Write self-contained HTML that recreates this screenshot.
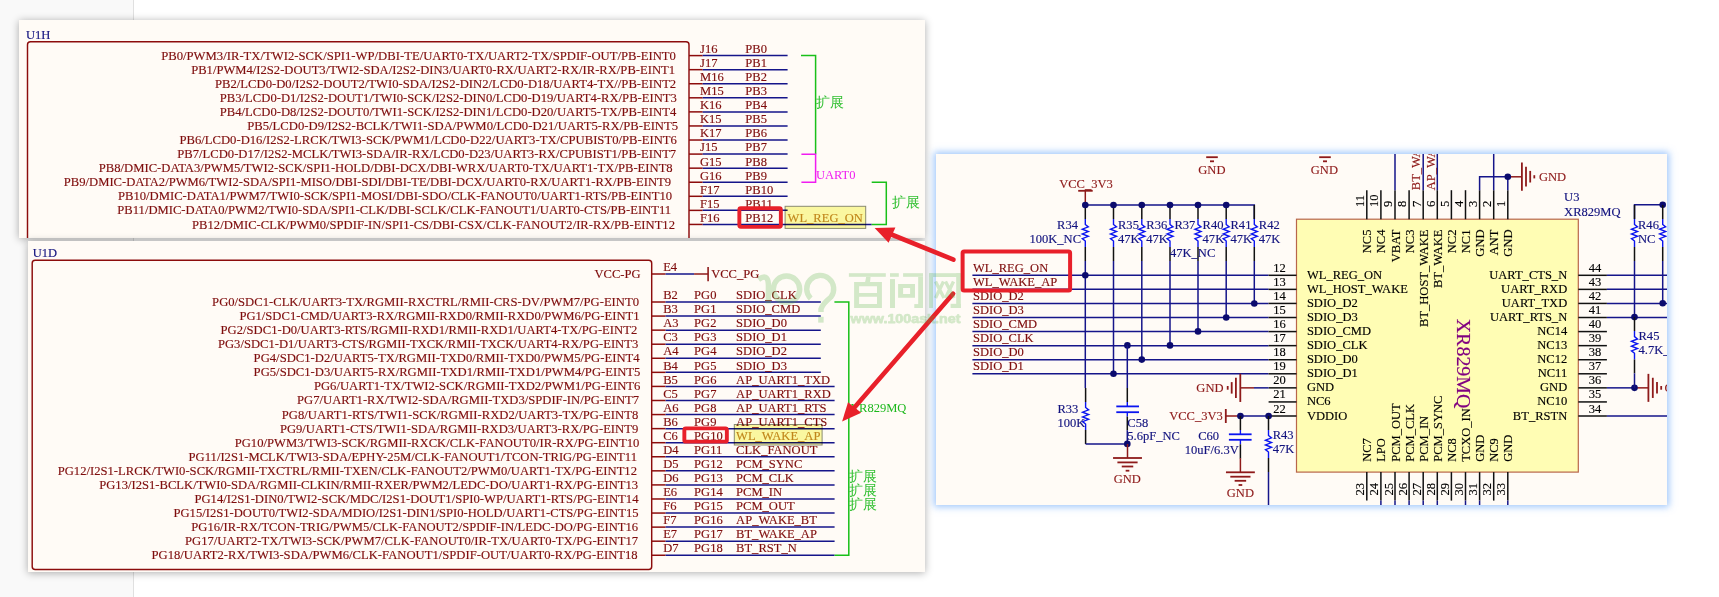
<!DOCTYPE html><html><head><meta charset="utf-8"><style>
html,body{margin:0;padding:0;width:1719px;height:597px;overflow:hidden;background:#fff;}
body{position:relative;font-family:"Liberation Serif",serif;}
.strip{position:absolute;left:0;top:0;width:133px;height:597px;background:#f9f9f9;border-right:1px solid #e0e0e0;}
.p{position:absolute;background:#fffbf6;}
svg{position:absolute;left:0;top:0;will-change:transform;}
text{font-family:"Liberation Serif",serif;}
</style></head><body>
<div class="strip"></div>
<div class="p" style="left:19px;top:20px;width:906px;height:218px;box-shadow:0 1px 8px rgba(0,0,0,0.32);"></div>
<div class="p" style="left:28px;top:241px;width:897px;height:331px;box-shadow:0 1px 8px rgba(0,0,0,0.32);"></div>
<div class="p" style="left:936px;top:154px;width:731px;height:351px;box-shadow:0 0 7px 2px rgba(120,175,250,0.7);"></div>
<svg width="1719" height="597" viewBox="0 0 1719 597">
<defs><clipPath id="c1"><rect x="19" y="20" width="906" height="218"/></clipPath><clipPath id="c2"><rect x="28" y="241" width="897" height="331"/></clipPath><clipPath id="c3"><rect x="936" y="154" width="731" height="351"/></clipPath></defs>
<g clip-path="url(#c1)">
<text transform="translate(26.00,39.20) scale(0.965,1)" fill="#12127e" stroke="#12127e" stroke-width="0.15" font-size="13" text-anchor="start">U1H</text>
<path d="M27.5,250 V44.7 Q27.5,41.7 30.5,41.7 H686 Q689,41.7 689,44.7 V250" fill="none" stroke="#8c0c0c" stroke-width="1.45"/>
<text transform="translate(161.20,59.70)" fill="#7e0c0c" stroke="#7e0c0c" stroke-width="0.15" font-size="13" text-anchor="start" textLength="514.70" lengthAdjust="spacingAndGlyphs">PB0/PWM3/IR-TX/TWI2-SCK/SPI1-WP/DBI-TE/UART0-TX/UART2-TX/SPDIF-OUT/PB-EINT0</text>
<line x1="689.00" y1="55.60" x2="702.70" y2="55.60" stroke="#8c0c0c" stroke-width="1.5"/>
<line x1="702.70" y1="55.60" x2="787.60" y2="55.60" stroke="#15158a" stroke-width="1.5"/>
<text transform="translate(700.00,53.00) scale(0.965,1)" fill="#7e0c0c" stroke="#7e0c0c" stroke-width="0.15" font-size="13" text-anchor="start">J16</text>
<text transform="translate(745.30,53.00) scale(0.965,1)" fill="#7e0c0c" stroke="#7e0c0c" stroke-width="0.15" font-size="13" text-anchor="start">PB0</text>
<text transform="translate(191.20,73.77)" fill="#7e0c0c" stroke="#7e0c0c" stroke-width="0.15" font-size="13" text-anchor="start" textLength="483.80" lengthAdjust="spacingAndGlyphs">PB1/PWM4/I2S2-DOUT3/TWI2-SDA/I2S2-DIN3/UART0-RX/UART2-RX/IR-RX/PB-EINT1</text>
<line x1="689.00" y1="69.67" x2="702.70" y2="69.67" stroke="#8c0c0c" stroke-width="1.5"/>
<line x1="702.70" y1="69.67" x2="787.60" y2="69.67" stroke="#15158a" stroke-width="1.5"/>
<text transform="translate(700.00,67.07) scale(0.965,1)" fill="#7e0c0c" stroke="#7e0c0c" stroke-width="0.15" font-size="13" text-anchor="start">J17</text>
<text transform="translate(745.30,67.07) scale(0.965,1)" fill="#7e0c0c" stroke="#7e0c0c" stroke-width="0.15" font-size="13" text-anchor="start">PB1</text>
<text transform="translate(215.00,87.84)" fill="#7e0c0c" stroke="#7e0c0c" stroke-width="0.15" font-size="13" text-anchor="start" textLength="461.20" lengthAdjust="spacingAndGlyphs">PB2/LCD0-D0/I2S2-DOUT2/TWI0-SDA/I2S2-DIN2/LCD0-D18/UART4-TX//PB-EINT2</text>
<line x1="689.00" y1="83.74" x2="702.70" y2="83.74" stroke="#8c0c0c" stroke-width="1.5"/>
<line x1="702.70" y1="83.74" x2="787.60" y2="83.74" stroke="#15158a" stroke-width="1.5"/>
<text transform="translate(700.00,81.14) scale(0.965,1)" fill="#7e0c0c" stroke="#7e0c0c" stroke-width="0.15" font-size="13" text-anchor="start">M16</text>
<text transform="translate(745.30,81.14) scale(0.965,1)" fill="#7e0c0c" stroke="#7e0c0c" stroke-width="0.15" font-size="13" text-anchor="start">PB2</text>
<text transform="translate(219.80,101.91)" fill="#7e0c0c" stroke="#7e0c0c" stroke-width="0.15" font-size="13" text-anchor="start" textLength="457.10" lengthAdjust="spacingAndGlyphs">PB3/LCD0-D1/I2S2-DOUT1/TWI0-SCK/I2S2-DIN0/LCD0-D19/UART4-RX/PB-EINT3</text>
<line x1="689.00" y1="97.81" x2="702.70" y2="97.81" stroke="#8c0c0c" stroke-width="1.5"/>
<line x1="702.70" y1="97.81" x2="787.60" y2="97.81" stroke="#15158a" stroke-width="1.5"/>
<text transform="translate(700.00,95.21) scale(0.965,1)" fill="#7e0c0c" stroke="#7e0c0c" stroke-width="0.15" font-size="13" text-anchor="start">M15</text>
<text transform="translate(745.30,95.21) scale(0.965,1)" fill="#7e0c0c" stroke="#7e0c0c" stroke-width="0.15" font-size="13" text-anchor="start">PB3</text>
<text transform="translate(219.80,115.98)" fill="#7e0c0c" stroke="#7e0c0c" stroke-width="0.15" font-size="13" text-anchor="start" textLength="456.40" lengthAdjust="spacingAndGlyphs">PB4/LCD0-D8/I2S2-DOUT0/TWI1-SCK/I2S2-DIN1/LCD0-D20/UART5-TX/PB-EINT4</text>
<line x1="689.00" y1="111.88" x2="702.70" y2="111.88" stroke="#8c0c0c" stroke-width="1.5"/>
<line x1="702.70" y1="111.88" x2="787.60" y2="111.88" stroke="#15158a" stroke-width="1.5"/>
<text transform="translate(700.00,109.28) scale(0.965,1)" fill="#7e0c0c" stroke="#7e0c0c" stroke-width="0.15" font-size="13" text-anchor="start">K16</text>
<text transform="translate(745.30,109.28) scale(0.965,1)" fill="#7e0c0c" stroke="#7e0c0c" stroke-width="0.15" font-size="13" text-anchor="start">PB4</text>
<text transform="translate(247.20,130.05)" fill="#7e0c0c" stroke="#7e0c0c" stroke-width="0.15" font-size="13" text-anchor="start" textLength="430.90" lengthAdjust="spacingAndGlyphs">PB5/LCD0-D9/I2S2-BCLK/TWI1-SDA/PWM0/LCD0-D21/UART5-RX/PB-EINT5</text>
<line x1="689.00" y1="125.95" x2="702.70" y2="125.95" stroke="#8c0c0c" stroke-width="1.5"/>
<line x1="702.70" y1="125.95" x2="787.60" y2="125.95" stroke="#15158a" stroke-width="1.5"/>
<text transform="translate(700.00,123.35) scale(0.965,1)" fill="#7e0c0c" stroke="#7e0c0c" stroke-width="0.15" font-size="13" text-anchor="start">K15</text>
<text transform="translate(745.30,123.35) scale(0.965,1)" fill="#7e0c0c" stroke="#7e0c0c" stroke-width="0.15" font-size="13" text-anchor="start">PB5</text>
<text transform="translate(179.40,144.12)" fill="#7e0c0c" stroke="#7e0c0c" stroke-width="0.15" font-size="13" text-anchor="start" textLength="497.50" lengthAdjust="spacingAndGlyphs">PB6/LCD0-D16/I2S2-LRCK/TWI3-SCK/PWM1/LCD0-D22/UART3-TX/CPUBIST0/PB-EINT6</text>
<line x1="689.00" y1="140.02" x2="702.70" y2="140.02" stroke="#8c0c0c" stroke-width="1.5"/>
<line x1="702.70" y1="140.02" x2="787.60" y2="140.02" stroke="#15158a" stroke-width="1.5"/>
<text transform="translate(700.00,137.42) scale(0.965,1)" fill="#7e0c0c" stroke="#7e0c0c" stroke-width="0.15" font-size="13" text-anchor="start">K17</text>
<text transform="translate(745.30,137.42) scale(0.965,1)" fill="#7e0c0c" stroke="#7e0c0c" stroke-width="0.15" font-size="13" text-anchor="start">PB6</text>
<text transform="translate(177.20,158.19)" fill="#7e0c0c" stroke="#7e0c0c" stroke-width="0.15" font-size="13" text-anchor="start" textLength="499.00" lengthAdjust="spacingAndGlyphs">PB7/LCD0-D17/I2S2-MCLK/TWI3-SDA/IR-RX/LCD0-D23/UART3-RX/CPUBIST1/PB-EINT7</text>
<line x1="689.00" y1="154.09" x2="702.70" y2="154.09" stroke="#8c0c0c" stroke-width="1.5"/>
<line x1="702.70" y1="154.09" x2="787.60" y2="154.09" stroke="#15158a" stroke-width="1.5"/>
<text transform="translate(700.00,151.49) scale(0.965,1)" fill="#7e0c0c" stroke="#7e0c0c" stroke-width="0.15" font-size="13" text-anchor="start">J15</text>
<text transform="translate(745.30,151.49) scale(0.965,1)" fill="#7e0c0c" stroke="#7e0c0c" stroke-width="0.15" font-size="13" text-anchor="start">PB7</text>
<text transform="translate(98.80,172.26)" fill="#7e0c0c" stroke="#7e0c0c" stroke-width="0.15" font-size="13" text-anchor="start" textLength="573.90" lengthAdjust="spacingAndGlyphs">PB8/DMIC-DATA3/PWM5/TWI2-SCK/SPI1-HOLD/DBI-DCX/DBI-WRX/UART0-TX/UART1-TX/PB-EINT8</text>
<line x1="689.00" y1="168.16" x2="702.70" y2="168.16" stroke="#8c0c0c" stroke-width="1.5"/>
<line x1="702.70" y1="168.16" x2="787.60" y2="168.16" stroke="#15158a" stroke-width="1.5"/>
<text transform="translate(700.00,165.56) scale(0.965,1)" fill="#7e0c0c" stroke="#7e0c0c" stroke-width="0.15" font-size="13" text-anchor="start">G15</text>
<text transform="translate(745.30,165.56) scale(0.965,1)" fill="#7e0c0c" stroke="#7e0c0c" stroke-width="0.15" font-size="13" text-anchor="start">PB8</text>
<text transform="translate(63.80,186.33)" fill="#7e0c0c" stroke="#7e0c0c" stroke-width="0.15" font-size="13" text-anchor="start" textLength="607.30" lengthAdjust="spacingAndGlyphs">PB9/DMIC-DATA2/PWM6/TWI2-SDA/SPI1-MISO/DBI-SDI/DBI-TE/DBI-DCX/UART0-RX/UART1-RX/PB-EINT9</text>
<line x1="689.00" y1="182.23" x2="702.70" y2="182.23" stroke="#8c0c0c" stroke-width="1.5"/>
<line x1="702.70" y1="182.23" x2="787.60" y2="182.23" stroke="#15158a" stroke-width="1.5"/>
<text transform="translate(700.00,179.63) scale(0.965,1)" fill="#7e0c0c" stroke="#7e0c0c" stroke-width="0.15" font-size="13" text-anchor="start">G16</text>
<text transform="translate(745.30,179.63) scale(0.965,1)" fill="#7e0c0c" stroke="#7e0c0c" stroke-width="0.15" font-size="13" text-anchor="start">PB9</text>
<text transform="translate(117.90,200.40)" fill="#7e0c0c" stroke="#7e0c0c" stroke-width="0.15" font-size="13" text-anchor="start" textLength="554.20" lengthAdjust="spacingAndGlyphs">PB10/DMIC-DATA1/PWM7/TWI0-SCK/SPI1-MOSI/DBI-SDO/CLK-FANOUT0/UART1-RTS/PB-EINT10</text>
<line x1="689.00" y1="196.30" x2="702.70" y2="196.30" stroke="#8c0c0c" stroke-width="1.5"/>
<line x1="702.70" y1="196.30" x2="787.60" y2="196.30" stroke="#15158a" stroke-width="1.5"/>
<text transform="translate(700.00,193.70) scale(0.965,1)" fill="#7e0c0c" stroke="#7e0c0c" stroke-width="0.15" font-size="13" text-anchor="start">F17</text>
<text transform="translate(745.30,193.70) scale(0.965,1)" fill="#7e0c0c" stroke="#7e0c0c" stroke-width="0.15" font-size="13" text-anchor="start">PB10</text>
<text transform="translate(117.30,214.47)" fill="#7e0c0c" stroke="#7e0c0c" stroke-width="0.15" font-size="13" text-anchor="start" textLength="553.80" lengthAdjust="spacingAndGlyphs">PB11/DMIC-DATA0/PWM2/TWI0-SDA/SPI1-CLK/DBI-SCLK/CLK-FANOUT1/UART0-CTS/PB-EINT11</text>
<line x1="689.00" y1="210.37" x2="702.70" y2="210.37" stroke="#8c0c0c" stroke-width="1.5"/>
<line x1="702.70" y1="210.37" x2="787.60" y2="210.37" stroke="#15158a" stroke-width="1.5"/>
<text transform="translate(700.00,207.77) scale(0.965,1)" fill="#7e0c0c" stroke="#7e0c0c" stroke-width="0.15" font-size="13" text-anchor="start">F15</text>
<text transform="translate(745.30,207.77) scale(0.965,1)" fill="#7e0c0c" stroke="#7e0c0c" stroke-width="0.15" font-size="13" text-anchor="start">PB11</text>
<text transform="translate(192.10,228.54)" fill="#7e0c0c" stroke="#7e0c0c" stroke-width="0.15" font-size="13" text-anchor="start" textLength="482.90" lengthAdjust="spacingAndGlyphs">PB12/DMIC-CLK/PWM0/SPDIF-IN/SPI1-CS/DBI-CSX/CLK-FANOUT2/IR-RX/PB-EINT12</text>
<line x1="689.00" y1="224.44" x2="702.70" y2="224.44" stroke="#8c0c0c" stroke-width="1.5"/>
<line x1="702.70" y1="224.44" x2="871.70" y2="224.44" stroke="#15158a" stroke-width="1.5"/>
<text transform="translate(700.00,221.84) scale(0.965,1)" fill="#7e0c0c" stroke="#7e0c0c" stroke-width="0.15" font-size="13" text-anchor="start">F16</text>
<text transform="translate(745.30,221.84) scale(0.965,1)" fill="#7e0c0c" stroke="#7e0c0c" stroke-width="0.15" font-size="13" text-anchor="start">PB12</text>
<polyline points="801.00,55.60 815.60,55.60 815.60,154.30" fill="none" stroke="#19c019" stroke-width="1.5"/>
<polyline points="801.40,154.20 815.60,154.20 815.60,182.20 801.40,182.20" fill="none" stroke="#f01cf0" stroke-width="1.5"/>
<text x="816.4" y="107" font-size="13.5" fill="#33c033">扩展</text>
<text transform="translate(815.90,178.50) scale(0.965,1)" fill="#f01cf0" stroke="#f01cf0" stroke-width="0.15" font-size="13" text-anchor="start" stroke-opacity="0">UART0</text>
<polyline points="871.70,182.20 886.30,182.20 886.30,224.60 871.70,224.60" fill="none" stroke="#19c019" stroke-width="1.5"/>
<text x="892.4" y="206.5" font-size="13.5" fill="#33c033">扩展</text>
<rect x="785.1" y="206.3" width="80.6" height="22.1" fill="#faf7a0" stroke="#8a8a70" stroke-width="1" style="mix-blend-mode:multiply"/>
<text transform="translate(787.60,221.60) scale(0.965,1)" fill="#c0861a" stroke="#c0861a" stroke-width="0.15" font-size="13" text-anchor="start">WL_REG_ON</text>
<rect x="739.35" y="208.25" width="41.5" height="18.6" rx="1.5" fill="none" stroke="#e8202a" stroke-width="3.9"/>
</g>
<g clip-path="url(#c2)">
<text transform="translate(32.80,256.90) scale(0.965,1)" fill="#12127e" stroke="#12127e" stroke-width="0.15" font-size="13" text-anchor="start">U1D</text>
<path d="M32.2,263.3 Q32.2,260.3 35.2,260.3 H648.7 Q651.7,260.3 651.7,263.3 V566.4 Q651.7,569.4 648.7,569.4 H35.2 Q32.2,569.4 32.2,566.4 Z" fill="none" stroke="#8c0c0c" stroke-width="1.45"/>
<text transform="translate(640.50,277.60) scale(0.965,1)" fill="#7e0c0c" stroke="#7e0c0c" stroke-width="0.15" font-size="13" text-anchor="end">VCC-PG</text>
<line x1="651.70" y1="274.00" x2="665.60" y2="274.00" stroke="#8c0c0c" stroke-width="1.5"/>
<line x1="665.60" y1="274.00" x2="694.10" y2="274.00" stroke="#15158a" stroke-width="1.5"/>
<line x1="694.10" y1="274.00" x2="708.10" y2="274.00" stroke="#8e1a1a" stroke-width="1.5"/>
<line x1="708.10" y1="267.10" x2="708.10" y2="281.30" stroke="#8e1a1a" stroke-width="1.6"/>
<text transform="translate(663.20,271.20) scale(0.965,1)" fill="#7e0c0c" stroke="#7e0c0c" stroke-width="0.15" font-size="13" text-anchor="start">E4</text>
<text transform="translate(711.20,277.80) scale(0.965,1)" fill="#7e0c0c" stroke="#7e0c0c" stroke-width="0.15" font-size="13" text-anchor="start">VCC_PG</text>
<text transform="translate(212.10,306.00)" fill="#7e0c0c" stroke="#7e0c0c" stroke-width="0.15" font-size="13" text-anchor="start" textLength="426.90" lengthAdjust="spacingAndGlyphs">PG0/SDC1-CLK/UART3-TX/RGMII-RXCTRL/RMII-CRS-DV/PWM7/PG-EINT0</text>
<line x1="651.70" y1="302.00" x2="665.60" y2="302.00" stroke="#8c0c0c" stroke-width="1.5"/>
<line x1="665.60" y1="302.00" x2="820.80" y2="302.00" stroke="#15158a" stroke-width="1.5"/>
<text transform="translate(663.20,299.20) scale(0.965,1)" fill="#7e0c0c" stroke="#7e0c0c" stroke-width="0.15" font-size="13" text-anchor="start">B2</text>
<text transform="translate(694.10,299.20) scale(0.965,1)" fill="#7e0c0c" stroke="#7e0c0c" stroke-width="0.15" font-size="13" text-anchor="start">PG0</text>
<text transform="translate(736.10,299.20) scale(0.965,1)" fill="#7e0c0c" stroke="#7e0c0c" stroke-width="0.15" font-size="13" text-anchor="start">SDIO_CLK</text>
<text transform="translate(239.40,320.07)" fill="#7e0c0c" stroke="#7e0c0c" stroke-width="0.15" font-size="13" text-anchor="start" textLength="400.20" lengthAdjust="spacingAndGlyphs">PG1/SDC1-CMD/UART3-RX/RGMII-RXD0/RMII-RXD0/PWM6/PG-EINT1</text>
<line x1="651.70" y1="316.07" x2="665.60" y2="316.07" stroke="#8c0c0c" stroke-width="1.5"/>
<line x1="665.60" y1="316.07" x2="820.80" y2="316.07" stroke="#15158a" stroke-width="1.5"/>
<text transform="translate(663.20,313.27) scale(0.965,1)" fill="#7e0c0c" stroke="#7e0c0c" stroke-width="0.15" font-size="13" text-anchor="start">B3</text>
<text transform="translate(694.10,313.27) scale(0.965,1)" fill="#7e0c0c" stroke="#7e0c0c" stroke-width="0.15" font-size="13" text-anchor="start">PG1</text>
<text transform="translate(736.10,313.27) scale(0.965,1)" fill="#7e0c0c" stroke="#7e0c0c" stroke-width="0.15" font-size="13" text-anchor="start">SDIO_CMD</text>
<text transform="translate(220.60,334.14)" fill="#7e0c0c" stroke="#7e0c0c" stroke-width="0.15" font-size="13" text-anchor="start" textLength="416.60" lengthAdjust="spacingAndGlyphs">PG2/SDC1-D0/UART3-RTS/RGMII-RXD1/RMII-RXD1/UART4-TX/PG-EINT2</text>
<line x1="651.70" y1="330.14" x2="665.60" y2="330.14" stroke="#8c0c0c" stroke-width="1.5"/>
<line x1="665.60" y1="330.14" x2="820.80" y2="330.14" stroke="#15158a" stroke-width="1.5"/>
<text transform="translate(663.20,327.34) scale(0.965,1)" fill="#7e0c0c" stroke="#7e0c0c" stroke-width="0.15" font-size="13" text-anchor="start">A3</text>
<text transform="translate(694.10,327.34) scale(0.965,1)" fill="#7e0c0c" stroke="#7e0c0c" stroke-width="0.15" font-size="13" text-anchor="start">PG2</text>
<text transform="translate(736.10,327.34) scale(0.965,1)" fill="#7e0c0c" stroke="#7e0c0c" stroke-width="0.15" font-size="13" text-anchor="start">SDIO_D0</text>
<text transform="translate(218.00,348.21)" fill="#7e0c0c" stroke="#7e0c0c" stroke-width="0.15" font-size="13" text-anchor="start" textLength="420.20" lengthAdjust="spacingAndGlyphs">PG3/SDC1-D1/UART3-CTS/RGMII-TXCK/RMII-TXCK/UART4-RX/PG-EINT3</text>
<line x1="651.70" y1="344.21" x2="665.60" y2="344.21" stroke="#8c0c0c" stroke-width="1.5"/>
<line x1="665.60" y1="344.21" x2="820.80" y2="344.21" stroke="#15158a" stroke-width="1.5"/>
<text transform="translate(663.20,341.41) scale(0.965,1)" fill="#7e0c0c" stroke="#7e0c0c" stroke-width="0.15" font-size="13" text-anchor="start">C3</text>
<text transform="translate(694.10,341.41) scale(0.965,1)" fill="#7e0c0c" stroke="#7e0c0c" stroke-width="0.15" font-size="13" text-anchor="start">PG3</text>
<text transform="translate(736.10,341.41) scale(0.965,1)" fill="#7e0c0c" stroke="#7e0c0c" stroke-width="0.15" font-size="13" text-anchor="start">SDIO_D1</text>
<text transform="translate(253.60,362.28)" fill="#7e0c0c" stroke="#7e0c0c" stroke-width="0.15" font-size="13" text-anchor="start" textLength="386.00" lengthAdjust="spacingAndGlyphs">PG4/SDC1-D2/UART5-TX/RGMII-TXD0/RMII-TXD0/PWM5/PG-EINT4</text>
<line x1="651.70" y1="358.28" x2="665.60" y2="358.28" stroke="#8c0c0c" stroke-width="1.5"/>
<line x1="665.60" y1="358.28" x2="820.80" y2="358.28" stroke="#15158a" stroke-width="1.5"/>
<text transform="translate(663.20,355.48) scale(0.965,1)" fill="#7e0c0c" stroke="#7e0c0c" stroke-width="0.15" font-size="13" text-anchor="start">A4</text>
<text transform="translate(694.10,355.48) scale(0.965,1)" fill="#7e0c0c" stroke="#7e0c0c" stroke-width="0.15" font-size="13" text-anchor="start">PG4</text>
<text transform="translate(736.10,355.48) scale(0.965,1)" fill="#7e0c0c" stroke="#7e0c0c" stroke-width="0.15" font-size="13" text-anchor="start">SDIO_D2</text>
<text transform="translate(253.60,376.35)" fill="#7e0c0c" stroke="#7e0c0c" stroke-width="0.15" font-size="13" text-anchor="start" textLength="386.80" lengthAdjust="spacingAndGlyphs">PG5/SDC1-D3/UART5-RX/RGMII-TXD1/RMII-TXD1/PWM4/PG-EINT5</text>
<line x1="651.70" y1="372.35" x2="665.60" y2="372.35" stroke="#8c0c0c" stroke-width="1.5"/>
<line x1="665.60" y1="372.35" x2="820.80" y2="372.35" stroke="#15158a" stroke-width="1.5"/>
<text transform="translate(663.20,369.55) scale(0.965,1)" fill="#7e0c0c" stroke="#7e0c0c" stroke-width="0.15" font-size="13" text-anchor="start">B4</text>
<text transform="translate(694.10,369.55) scale(0.965,1)" fill="#7e0c0c" stroke="#7e0c0c" stroke-width="0.15" font-size="13" text-anchor="start">PG5</text>
<text transform="translate(736.10,369.55) scale(0.965,1)" fill="#7e0c0c" stroke="#7e0c0c" stroke-width="0.15" font-size="13" text-anchor="start">SDIO_D3</text>
<text transform="translate(313.90,390.42)" fill="#7e0c0c" stroke="#7e0c0c" stroke-width="0.15" font-size="13" text-anchor="start" textLength="326.50" lengthAdjust="spacingAndGlyphs">PG6/UART1-TX/TWI2-SCK/RGMII-TXD2/PWM1/PG-EINT6</text>
<line x1="651.70" y1="386.42" x2="665.60" y2="386.42" stroke="#8c0c0c" stroke-width="1.5"/>
<line x1="665.60" y1="386.42" x2="834.60" y2="386.42" stroke="#15158a" stroke-width="1.5"/>
<text transform="translate(663.20,383.62) scale(0.965,1)" fill="#7e0c0c" stroke="#7e0c0c" stroke-width="0.15" font-size="13" text-anchor="start">B5</text>
<text transform="translate(694.10,383.62) scale(0.965,1)" fill="#7e0c0c" stroke="#7e0c0c" stroke-width="0.15" font-size="13" text-anchor="start">PG6</text>
<text transform="translate(736.10,383.62) scale(0.965,1)" fill="#7e0c0c" stroke="#7e0c0c" stroke-width="0.15" font-size="13" text-anchor="start">AP_UART1_TXD</text>
<text transform="translate(297.10,404.49)" fill="#7e0c0c" stroke="#7e0c0c" stroke-width="0.15" font-size="13" text-anchor="start" textLength="341.90" lengthAdjust="spacingAndGlyphs">PG7/UART1-RX/TWI2-SDA/RGMII-TXD3/SPDIF-IN/PG-EINT7</text>
<line x1="651.70" y1="400.49" x2="665.60" y2="400.49" stroke="#8c0c0c" stroke-width="1.5"/>
<line x1="665.60" y1="400.49" x2="834.60" y2="400.49" stroke="#15158a" stroke-width="1.5"/>
<text transform="translate(663.20,397.69) scale(0.965,1)" fill="#7e0c0c" stroke="#7e0c0c" stroke-width="0.15" font-size="13" text-anchor="start">C5</text>
<text transform="translate(694.10,397.69) scale(0.965,1)" fill="#7e0c0c" stroke="#7e0c0c" stroke-width="0.15" font-size="13" text-anchor="start">PG7</text>
<text transform="translate(736.10,397.69) scale(0.965,1)" fill="#7e0c0c" stroke="#7e0c0c" stroke-width="0.15" font-size="13" text-anchor="start">AP_UART1_RXD</text>
<text transform="translate(281.80,418.56)" fill="#7e0c0c" stroke="#7e0c0c" stroke-width="0.15" font-size="13" text-anchor="start" textLength="356.40" lengthAdjust="spacingAndGlyphs">PG8/UART1-RTS/TWI1-SCK/RGMII-RXD2/UART3-TX/PG-EINT8</text>
<line x1="651.70" y1="414.56" x2="665.60" y2="414.56" stroke="#8c0c0c" stroke-width="1.5"/>
<line x1="665.60" y1="414.56" x2="834.60" y2="414.56" stroke="#15158a" stroke-width="1.5"/>
<text transform="translate(663.20,411.76) scale(0.965,1)" fill="#7e0c0c" stroke="#7e0c0c" stroke-width="0.15" font-size="13" text-anchor="start">A6</text>
<text transform="translate(694.10,411.76) scale(0.965,1)" fill="#7e0c0c" stroke="#7e0c0c" stroke-width="0.15" font-size="13" text-anchor="start">PG8</text>
<text transform="translate(736.10,411.76) scale(0.965,1)" fill="#7e0c0c" stroke="#7e0c0c" stroke-width="0.15" font-size="13" text-anchor="start">AP_UART1_RTS</text>
<text transform="translate(279.90,432.63)" fill="#7e0c0c" stroke="#7e0c0c" stroke-width="0.15" font-size="13" text-anchor="start" textLength="358.30" lengthAdjust="spacingAndGlyphs">PG9/UART1-CTS/TWI1-SDA/RGMII-RXD3/UART3-RX/PG-EINT9</text>
<line x1="651.70" y1="428.63" x2="665.60" y2="428.63" stroke="#8c0c0c" stroke-width="1.5"/>
<line x1="665.60" y1="428.63" x2="834.60" y2="428.63" stroke="#15158a" stroke-width="1.5"/>
<text transform="translate(663.20,425.83) scale(0.965,1)" fill="#7e0c0c" stroke="#7e0c0c" stroke-width="0.15" font-size="13" text-anchor="start">B6</text>
<text transform="translate(694.10,425.83) scale(0.965,1)" fill="#7e0c0c" stroke="#7e0c0c" stroke-width="0.15" font-size="13" text-anchor="start">PG9</text>
<text transform="translate(736.10,425.83) scale(0.965,1)" fill="#7e0c0c" stroke="#7e0c0c" stroke-width="0.15" font-size="13" text-anchor="start">AP_UART1_CTS</text>
<text transform="translate(234.70,446.70)" fill="#7e0c0c" stroke="#7e0c0c" stroke-width="0.15" font-size="13" text-anchor="start" textLength="404.60" lengthAdjust="spacingAndGlyphs">PG10/PWM3/TWI3-SCK/RGMII-RXCK/CLK-FANOUT0/IR-RX/PG-EINT10</text>
<line x1="651.70" y1="442.70" x2="665.60" y2="442.70" stroke="#8c0c0c" stroke-width="1.5"/>
<line x1="665.60" y1="442.70" x2="834.60" y2="442.70" stroke="#15158a" stroke-width="1.5"/>
<text transform="translate(663.20,439.90) scale(0.965,1)" fill="#7e0c0c" stroke="#7e0c0c" stroke-width="0.15" font-size="13" text-anchor="start">C6</text>
<text transform="translate(694.10,439.90) scale(0.965,1)" fill="#7e0c0c" stroke="#7e0c0c" stroke-width="0.15" font-size="13" text-anchor="start">PG10</text>
<text transform="translate(188.60,460.77)" fill="#7e0c0c" stroke="#7e0c0c" stroke-width="0.15" font-size="13" text-anchor="start" textLength="448.40" lengthAdjust="spacingAndGlyphs">PG11/I2S1-MCLK/TWI3-SDA/EPHY-25M/CLK-FANOUT1/TCON-TRIG/PG-EINT11</text>
<line x1="651.70" y1="456.77" x2="665.60" y2="456.77" stroke="#8c0c0c" stroke-width="1.5"/>
<line x1="665.60" y1="456.77" x2="834.60" y2="456.77" stroke="#15158a" stroke-width="1.5"/>
<text transform="translate(663.20,453.97) scale(0.965,1)" fill="#7e0c0c" stroke="#7e0c0c" stroke-width="0.15" font-size="13" text-anchor="start">D4</text>
<text transform="translate(694.10,453.97) scale(0.965,1)" fill="#7e0c0c" stroke="#7e0c0c" stroke-width="0.15" font-size="13" text-anchor="start">PG11</text>
<text transform="translate(736.10,453.97) scale(0.965,1)" fill="#7e0c0c" stroke="#7e0c0c" stroke-width="0.15" font-size="13" text-anchor="start">CLK_FANOUT</text>
<text transform="translate(57.70,474.84)" fill="#7e0c0c" stroke="#7e0c0c" stroke-width="0.15" font-size="13" text-anchor="start" textLength="579.30" lengthAdjust="spacingAndGlyphs">PG12/I2S1-LRCK/TWI0-SCK/RGMII-TXCTRL/RMII-TXEN/CLK-FANOUT2/PWM0/UART1-TX/PG-EINT12</text>
<line x1="651.70" y1="470.84" x2="665.60" y2="470.84" stroke="#8c0c0c" stroke-width="1.5"/>
<line x1="665.60" y1="470.84" x2="834.60" y2="470.84" stroke="#15158a" stroke-width="1.5"/>
<text transform="translate(663.20,468.04) scale(0.965,1)" fill="#7e0c0c" stroke="#7e0c0c" stroke-width="0.15" font-size="13" text-anchor="start">D5</text>
<text transform="translate(694.10,468.04) scale(0.965,1)" fill="#7e0c0c" stroke="#7e0c0c" stroke-width="0.15" font-size="13" text-anchor="start">PG12</text>
<text transform="translate(736.10,468.04) scale(0.965,1)" fill="#7e0c0c" stroke="#7e0c0c" stroke-width="0.15" font-size="13" text-anchor="start">PCM_SYNC</text>
<text transform="translate(99.20,488.91)" fill="#7e0c0c" stroke="#7e0c0c" stroke-width="0.15" font-size="13" text-anchor="start" textLength="538.90" lengthAdjust="spacingAndGlyphs">PG13/I2S1-BCLK/TWI0-SDA/RGMII-CLKIN/RMII-RXER/PWM2/LEDC-DO/UART1-RX/PG-EINT13</text>
<line x1="651.70" y1="484.91" x2="665.60" y2="484.91" stroke="#8c0c0c" stroke-width="1.5"/>
<line x1="665.60" y1="484.91" x2="834.60" y2="484.91" stroke="#15158a" stroke-width="1.5"/>
<text transform="translate(663.20,482.11) scale(0.965,1)" fill="#7e0c0c" stroke="#7e0c0c" stroke-width="0.15" font-size="13" text-anchor="start">D6</text>
<text transform="translate(694.10,482.11) scale(0.965,1)" fill="#7e0c0c" stroke="#7e0c0c" stroke-width="0.15" font-size="13" text-anchor="start">PG13</text>
<text transform="translate(736.10,482.11) scale(0.965,1)" fill="#7e0c0c" stroke="#7e0c0c" stroke-width="0.15" font-size="13" text-anchor="start">PCM_CLK</text>
<text transform="translate(194.40,502.98)" fill="#7e0c0c" stroke="#7e0c0c" stroke-width="0.15" font-size="13" text-anchor="start" textLength="444.10" lengthAdjust="spacingAndGlyphs">PG14/I2S1-DIN0/TWI2-SCK/MDC/I2S1-DOUT1/SPI0-WP/UART1-RTS/PG-EINT14</text>
<line x1="651.70" y1="498.98" x2="665.60" y2="498.98" stroke="#8c0c0c" stroke-width="1.5"/>
<line x1="665.60" y1="498.98" x2="834.60" y2="498.98" stroke="#15158a" stroke-width="1.5"/>
<text transform="translate(663.20,496.18) scale(0.965,1)" fill="#7e0c0c" stroke="#7e0c0c" stroke-width="0.15" font-size="13" text-anchor="start">E6</text>
<text transform="translate(694.10,496.18) scale(0.965,1)" fill="#7e0c0c" stroke="#7e0c0c" stroke-width="0.15" font-size="13" text-anchor="start">PG14</text>
<text transform="translate(736.10,496.18) scale(0.965,1)" fill="#7e0c0c" stroke="#7e0c0c" stroke-width="0.15" font-size="13" text-anchor="start">PCM_IN</text>
<text transform="translate(173.50,517.05)" fill="#7e0c0c" stroke="#7e0c0c" stroke-width="0.15" font-size="13" text-anchor="start" textLength="465.00" lengthAdjust="spacingAndGlyphs">PG15/I2S1-DOUT0/TWI2-SDA/MDIO/I2S1-DIN1/SPI0-HOLD/UART1-CTS/PG-EINT15</text>
<line x1="651.70" y1="513.05" x2="665.60" y2="513.05" stroke="#8c0c0c" stroke-width="1.5"/>
<line x1="665.60" y1="513.05" x2="834.60" y2="513.05" stroke="#15158a" stroke-width="1.5"/>
<text transform="translate(663.20,510.25) scale(0.965,1)" fill="#7e0c0c" stroke="#7e0c0c" stroke-width="0.15" font-size="13" text-anchor="start">F6</text>
<text transform="translate(694.10,510.25) scale(0.965,1)" fill="#7e0c0c" stroke="#7e0c0c" stroke-width="0.15" font-size="13" text-anchor="start">PG15</text>
<text transform="translate(736.10,510.25) scale(0.965,1)" fill="#7e0c0c" stroke="#7e0c0c" stroke-width="0.15" font-size="13" text-anchor="start">PCM_OUT</text>
<text transform="translate(191.30,531.12)" fill="#7e0c0c" stroke="#7e0c0c" stroke-width="0.15" font-size="13" text-anchor="start" textLength="446.80" lengthAdjust="spacingAndGlyphs">PG16/IR-RX/TCON-TRIG/PWM5/CLK-FANOUT2/SPDIF-IN/LEDC-DO/PG-EINT16</text>
<line x1="651.70" y1="527.12" x2="665.60" y2="527.12" stroke="#8c0c0c" stroke-width="1.5"/>
<line x1="665.60" y1="527.12" x2="834.60" y2="527.12" stroke="#15158a" stroke-width="1.5"/>
<text transform="translate(663.20,524.32) scale(0.965,1)" fill="#7e0c0c" stroke="#7e0c0c" stroke-width="0.15" font-size="13" text-anchor="start">F7</text>
<text transform="translate(694.10,524.32) scale(0.965,1)" fill="#7e0c0c" stroke="#7e0c0c" stroke-width="0.15" font-size="13" text-anchor="start">PG16</text>
<text transform="translate(736.10,524.32) scale(0.965,1)" fill="#7e0c0c" stroke="#7e0c0c" stroke-width="0.15" font-size="13" text-anchor="start">AP_WAKE_BT</text>
<text transform="translate(185.00,545.19)" fill="#7e0c0c" stroke="#7e0c0c" stroke-width="0.15" font-size="13" text-anchor="start" textLength="453.10" lengthAdjust="spacingAndGlyphs">PG17/UART2-TX/TWI3-SCK/PWM7/CLK-FANOUT0/IR-TX/UART0-TX/PG-EINT17</text>
<line x1="651.70" y1="541.19" x2="665.60" y2="541.19" stroke="#8c0c0c" stroke-width="1.5"/>
<line x1="665.60" y1="541.19" x2="834.60" y2="541.19" stroke="#15158a" stroke-width="1.5"/>
<text transform="translate(663.20,538.39) scale(0.965,1)" fill="#7e0c0c" stroke="#7e0c0c" stroke-width="0.15" font-size="13" text-anchor="start">E7</text>
<text transform="translate(694.10,538.39) scale(0.965,1)" fill="#7e0c0c" stroke="#7e0c0c" stroke-width="0.15" font-size="13" text-anchor="start">PG17</text>
<text transform="translate(736.10,538.39) scale(0.965,1)" fill="#7e0c0c" stroke="#7e0c0c" stroke-width="0.15" font-size="13" text-anchor="start">BT_WAKE_AP</text>
<text transform="translate(151.50,559.26)" fill="#7e0c0c" stroke="#7e0c0c" stroke-width="0.15" font-size="13" text-anchor="start" textLength="486.20" lengthAdjust="spacingAndGlyphs">PG18/UART2-RX/TWI3-SDA/PWM6/CLK-FANOUT1/SPDIF-OUT/UART0-RX/PG-EINT18</text>
<line x1="651.70" y1="555.26" x2="665.60" y2="555.26" stroke="#8c0c0c" stroke-width="1.5"/>
<line x1="665.60" y1="555.26" x2="834.60" y2="555.26" stroke="#15158a" stroke-width="1.5"/>
<text transform="translate(663.20,552.46) scale(0.965,1)" fill="#7e0c0c" stroke="#7e0c0c" stroke-width="0.15" font-size="13" text-anchor="start">D7</text>
<text transform="translate(694.10,552.46) scale(0.965,1)" fill="#7e0c0c" stroke="#7e0c0c" stroke-width="0.15" font-size="13" text-anchor="start">PG18</text>
<text transform="translate(736.10,552.46) scale(0.965,1)" fill="#7e0c0c" stroke="#7e0c0c" stroke-width="0.15" font-size="13" text-anchor="start">BT_RST_N</text>
<polyline points="834.40,302.00 848.80,302.00 848.80,555.30 834.60,555.30" fill="none" stroke="#19c019" stroke-width="1.5"/>
<text transform="translate(850.00,412.20) scale(0.965,1)" fill="#1cb81c" stroke="#1cb81c" stroke-width="0.15" font-size="13" text-anchor="start" stroke-opacity="0">XR829MQ</text>
<text x="849.2" y="480.7" font-size="13.5" fill="#33c033">扩展</text>
<text x="849.2" y="494.8" font-size="13.5" fill="#33c033">扩展</text>
<text x="849.2" y="508.9" font-size="13.5" fill="#33c033">扩展</text>
<rect x="734.3" y="424.5" width="87.8" height="20.5" fill="#faf7a0" stroke="#8a8a70" stroke-width="1" style="mix-blend-mode:multiply"/>
<text transform="translate(736.10,439.90) scale(0.965,1)" fill="#c0861a" stroke="#c0861a" stroke-width="0.15" font-size="13" text-anchor="start">WL_WAKE_AP</text>
<rect x="684.35" y="428.35" width="42.5" height="13.3" rx="1.5" fill="none" stroke="#e8202a" stroke-width="3.9"/>
</g>
<g clip-path="url(#c3)">
<line x1="1206.20" y1="157.20" x2="1217.80" y2="157.20" stroke="#8e1a1a" stroke-width="1.8"/>
<line x1="1210.00" y1="161.30" x2="1214.00" y2="161.30" stroke="#8e1a1a" stroke-width="1.8"/>
<line x1="1202.00" y1="152.50" x2="1222.00" y2="152.50" stroke="#8e1a1a" stroke-width="1.8"/>
<text transform="translate(1211.90,173.90) scale(0.965,1)" fill="#8e1a1a" stroke="#8e1a1a" stroke-width="0.15" font-size="13" text-anchor="middle">GND</text>
<line x1="1319.20" y1="157.20" x2="1330.80" y2="157.20" stroke="#8e1a1a" stroke-width="1.8"/>
<line x1="1323.00" y1="161.30" x2="1327.00" y2="161.30" stroke="#8e1a1a" stroke-width="1.8"/>
<line x1="1315.00" y1="152.50" x2="1335.00" y2="152.50" stroke="#8e1a1a" stroke-width="1.8"/>
<text transform="translate(1324.40,173.90) scale(0.965,1)" fill="#8e1a1a" stroke="#8e1a1a" stroke-width="0.15" font-size="13" text-anchor="middle">GND</text>
<text transform="translate(1059.20,187.70) scale(0.965,1)" fill="#8e1a1a" stroke="#8e1a1a" stroke-width="0.15" font-size="13" text-anchor="start">VCC_3V3</text>
<line x1="1078.20" y1="190.80" x2="1092.70" y2="190.80" stroke="#8e1a1a" stroke-width="1.8"/>
<line x1="1085.30" y1="190.80" x2="1085.30" y2="205.00" stroke="#8e1a1a" stroke-width="1.5"/>
<polyline points="1085.30,205.00 1254.30,205.00 1254.30,219.00" fill="none" stroke="#15158a" stroke-width="1.5"/>
<line x1="1085.30" y1="205.00" x2="1085.30" y2="219.00" stroke="#111111" stroke-width="1.5"/>
<line x1="1085.30" y1="247.00" x2="1085.30" y2="261.00" stroke="#111111" stroke-width="1.5"/>
<polyline points="1085.30,219.00 1085.30,224.50 1088.30,226.86 1082.30,229.21 1088.30,231.57 1082.30,233.93 1088.30,236.29 1082.30,238.64 1085.30,241.00 1085.30,247.00" fill="none" stroke="#0a14f0" stroke-width="1.4"/>
<line x1="1113.50" y1="205.00" x2="1113.50" y2="219.00" stroke="#111111" stroke-width="1.5"/>
<line x1="1113.50" y1="247.00" x2="1113.50" y2="261.00" stroke="#111111" stroke-width="1.5"/>
<polyline points="1113.50,219.00 1113.50,224.50 1116.50,226.86 1110.50,229.21 1116.50,231.57 1110.50,233.93 1116.50,236.29 1110.50,238.64 1113.50,241.00 1113.50,247.00" fill="none" stroke="#0a14f0" stroke-width="1.4"/>
<line x1="1141.80" y1="205.00" x2="1141.80" y2="219.00" stroke="#111111" stroke-width="1.5"/>
<line x1="1141.80" y1="247.00" x2="1141.80" y2="261.00" stroke="#111111" stroke-width="1.5"/>
<polyline points="1141.80,219.00 1141.80,224.50 1144.80,226.86 1138.80,229.21 1144.80,231.57 1138.80,233.93 1144.80,236.29 1138.80,238.64 1141.80,241.00 1141.80,247.00" fill="none" stroke="#0a14f0" stroke-width="1.4"/>
<line x1="1170.00" y1="205.00" x2="1170.00" y2="219.00" stroke="#111111" stroke-width="1.5"/>
<line x1="1170.00" y1="247.00" x2="1170.00" y2="261.00" stroke="#111111" stroke-width="1.5"/>
<polyline points="1170.00,219.00 1170.00,224.50 1173.00,226.86 1167.00,229.21 1173.00,231.57 1167.00,233.93 1173.00,236.29 1167.00,238.64 1170.00,241.00 1170.00,247.00" fill="none" stroke="#0a14f0" stroke-width="1.4"/>
<line x1="1198.00" y1="205.00" x2="1198.00" y2="219.00" stroke="#111111" stroke-width="1.5"/>
<line x1="1198.00" y1="247.00" x2="1198.00" y2="261.00" stroke="#111111" stroke-width="1.5"/>
<polyline points="1198.00,219.00 1198.00,224.50 1201.00,226.86 1195.00,229.21 1201.00,231.57 1195.00,233.93 1201.00,236.29 1195.00,238.64 1198.00,241.00 1198.00,247.00" fill="none" stroke="#0a14f0" stroke-width="1.4"/>
<line x1="1226.20" y1="205.00" x2="1226.20" y2="219.00" stroke="#111111" stroke-width="1.5"/>
<line x1="1226.20" y1="247.00" x2="1226.20" y2="261.00" stroke="#111111" stroke-width="1.5"/>
<polyline points="1226.20,219.00 1226.20,224.50 1229.20,226.86 1223.20,229.21 1229.20,231.57 1223.20,233.93 1229.20,236.29 1223.20,238.64 1226.20,241.00 1226.20,247.00" fill="none" stroke="#0a14f0" stroke-width="1.4"/>
<line x1="1254.30" y1="205.00" x2="1254.30" y2="219.00" stroke="#111111" stroke-width="1.5"/>
<line x1="1254.30" y1="247.00" x2="1254.30" y2="261.00" stroke="#111111" stroke-width="1.5"/>
<polyline points="1254.30,219.00 1254.30,224.50 1257.30,226.86 1251.30,229.21 1257.30,231.57 1251.30,233.93 1257.30,236.29 1251.30,238.64 1254.30,241.00 1254.30,247.00" fill="none" stroke="#0a14f0" stroke-width="1.4"/>
<circle cx="1085.30" cy="205.00" r="3.3" fill="#0b0b6e"/>
<circle cx="1113.50" cy="205.00" r="3.3" fill="#0b0b6e"/>
<circle cx="1141.80" cy="205.00" r="3.3" fill="#0b0b6e"/>
<circle cx="1170.00" cy="205.00" r="3.3" fill="#0b0b6e"/>
<circle cx="1198.00" cy="205.00" r="3.3" fill="#0b0b6e"/>
<circle cx="1226.20" cy="205.00" r="3.3" fill="#0b0b6e"/>
<text transform="translate(1118.00,228.90) scale(0.965,1)" fill="#12127e" stroke="#12127e" stroke-width="0.15" font-size="13" text-anchor="start">R35</text>
<text transform="translate(1146.30,228.90) scale(0.965,1)" fill="#12127e" stroke="#12127e" stroke-width="0.15" font-size="13" text-anchor="start">R36</text>
<text transform="translate(1174.40,228.90) scale(0.965,1)" fill="#12127e" stroke="#12127e" stroke-width="0.15" font-size="13" text-anchor="start">R37</text>
<text transform="translate(1202.60,228.90) scale(0.965,1)" fill="#12127e" stroke="#12127e" stroke-width="0.15" font-size="13" text-anchor="start">R40</text>
<text transform="translate(1230.50,228.90) scale(0.965,1)" fill="#12127e" stroke="#12127e" stroke-width="0.15" font-size="13" text-anchor="start">R41</text>
<text transform="translate(1258.80,228.90) scale(0.965,1)" fill="#12127e" stroke="#12127e" stroke-width="0.15" font-size="13" text-anchor="start">R42</text>
<text transform="translate(1118.00,242.70) scale(0.965,1)" fill="#12127e" stroke="#12127e" stroke-width="0.15" font-size="13" text-anchor="start">47K</text>
<text transform="translate(1146.30,242.70) scale(0.965,1)" fill="#12127e" stroke="#12127e" stroke-width="0.15" font-size="13" text-anchor="start">47K</text>
<text transform="translate(1202.60,242.70) scale(0.965,1)" fill="#12127e" stroke="#12127e" stroke-width="0.15" font-size="13" text-anchor="start">47K</text>
<text transform="translate(1230.50,242.70) scale(0.965,1)" fill="#12127e" stroke="#12127e" stroke-width="0.15" font-size="13" text-anchor="start">47K</text>
<text transform="translate(1258.80,242.70) scale(0.965,1)" fill="#12127e" stroke="#12127e" stroke-width="0.15" font-size="13" text-anchor="start">47K</text>
<text transform="translate(1170.00,257.00) scale(0.965,1)" fill="#12127e" stroke="#12127e" stroke-width="0.15" font-size="13" text-anchor="start">47K_NC</text>
<text transform="translate(1078.00,229.20) scale(0.965,1)" fill="#12127e" stroke="#12127e" stroke-width="0.15" font-size="13" text-anchor="end">R34</text>
<text transform="translate(1081.00,242.70) scale(0.965,1)" fill="#12127e" stroke="#12127e" stroke-width="0.15" font-size="13" text-anchor="end">100K_NC</text>
<line x1="972.40" y1="275.30" x2="1268.60" y2="275.30" stroke="#15158a" stroke-width="1.5"/>
<text transform="translate(973.00,271.80) scale(0.965,1)" fill="#7e0c0c" stroke="#7e0c0c" stroke-width="0.15" font-size="13" text-anchor="start">WL_REG_ON</text>
<line x1="972.40" y1="289.37" x2="1268.60" y2="289.37" stroke="#15158a" stroke-width="1.5"/>
<text transform="translate(973.00,285.87) scale(0.965,1)" fill="#7e0c0c" stroke="#7e0c0c" stroke-width="0.15" font-size="13" text-anchor="start">WL_WAKE_AP</text>
<line x1="972.40" y1="303.44" x2="1268.60" y2="303.44" stroke="#15158a" stroke-width="1.5"/>
<text transform="translate(973.00,299.94) scale(0.965,1)" fill="#7e0c0c" stroke="#7e0c0c" stroke-width="0.15" font-size="13" text-anchor="start">SDIO_D2</text>
<line x1="972.40" y1="317.51" x2="1268.60" y2="317.51" stroke="#15158a" stroke-width="1.5"/>
<text transform="translate(973.00,314.01) scale(0.965,1)" fill="#7e0c0c" stroke="#7e0c0c" stroke-width="0.15" font-size="13" text-anchor="start">SDIO_D3</text>
<line x1="972.40" y1="331.58" x2="1268.60" y2="331.58" stroke="#15158a" stroke-width="1.5"/>
<text transform="translate(973.00,328.08) scale(0.965,1)" fill="#7e0c0c" stroke="#7e0c0c" stroke-width="0.15" font-size="13" text-anchor="start">SDIO_CMD</text>
<line x1="972.40" y1="345.65" x2="1268.60" y2="345.65" stroke="#15158a" stroke-width="1.5"/>
<text transform="translate(973.00,342.15) scale(0.965,1)" fill="#7e0c0c" stroke="#7e0c0c" stroke-width="0.15" font-size="13" text-anchor="start">SDIO_CLK</text>
<line x1="972.40" y1="359.72" x2="1268.60" y2="359.72" stroke="#15158a" stroke-width="1.5"/>
<text transform="translate(973.00,356.22) scale(0.965,1)" fill="#7e0c0c" stroke="#7e0c0c" stroke-width="0.15" font-size="13" text-anchor="start">SDIO_D0</text>
<line x1="972.40" y1="373.79" x2="1268.60" y2="373.79" stroke="#15158a" stroke-width="1.5"/>
<text transform="translate(973.00,370.29) scale(0.965,1)" fill="#7e0c0c" stroke="#7e0c0c" stroke-width="0.15" font-size="13" text-anchor="start">SDIO_D1</text>
<line x1="1113.50" y1="261.00" x2="1113.50" y2="373.70" stroke="#15158a" stroke-width="1.5"/>
<circle cx="1113.50" cy="373.70" r="3.3" fill="#0b0b6e"/>
<line x1="1141.80" y1="261.00" x2="1141.80" y2="359.60" stroke="#15158a" stroke-width="1.5"/>
<circle cx="1141.80" cy="359.60" r="3.3" fill="#0b0b6e"/>
<line x1="1170.00" y1="261.00" x2="1170.00" y2="345.40" stroke="#15158a" stroke-width="1.5"/>
<circle cx="1170.00" cy="345.40" r="3.3" fill="#0b0b6e"/>
<line x1="1198.00" y1="261.00" x2="1198.00" y2="331.40" stroke="#15158a" stroke-width="1.5"/>
<circle cx="1198.00" cy="331.40" r="3.3" fill="#0b0b6e"/>
<line x1="1226.20" y1="261.00" x2="1226.20" y2="317.50" stroke="#15158a" stroke-width="1.5"/>
<circle cx="1226.20" cy="317.50" r="3.3" fill="#0b0b6e"/>
<line x1="1254.30" y1="261.00" x2="1254.30" y2="303.50" stroke="#15158a" stroke-width="1.5"/>
<circle cx="1254.30" cy="303.50" r="3.3" fill="#0b0b6e"/>
<line x1="1085.30" y1="261.00" x2="1085.30" y2="388.00" stroke="#15158a" stroke-width="1.5"/>
<circle cx="1085.30" cy="275.30" r="3.3" fill="#0b0b6e"/>
<line x1="1085.60" y1="388.00" x2="1085.60" y2="402.00" stroke="#111111" stroke-width="1.5"/>
<line x1="1085.60" y1="430.00" x2="1085.60" y2="444.00" stroke="#111111" stroke-width="1.5"/>
<polyline points="1085.60,402.00 1085.60,407.50 1088.60,409.86 1082.60,412.21 1088.60,414.57 1082.60,416.93 1088.60,419.29 1082.60,421.64 1085.60,424.00 1085.60,430.00" fill="none" stroke="#0a14f0" stroke-width="1.4"/>
<polyline points="1085.60,443.90 1127.30,443.90" fill="none" stroke="#15158a" stroke-width="1.5"/>
<text transform="translate(1057.40,412.90) scale(0.965,1)" fill="#12127e" stroke="#12127e" stroke-width="0.15" font-size="13" text-anchor="start">R33</text>
<text transform="translate(1057.40,426.80) scale(0.965,1)" fill="#12127e" stroke="#12127e" stroke-width="0.15" font-size="13" text-anchor="start">100K</text>
<circle cx="1127.40" cy="345.40" r="3.3" fill="#0b0b6e"/>
<line x1="1127.30" y1="345.40" x2="1127.30" y2="388.00" stroke="#15158a" stroke-width="1.5"/>
<line x1="1127.30" y1="388.00" x2="1127.30" y2="402.00" stroke="#111111" stroke-width="1.5"/>
<line x1="1127.30" y1="402.00" x2="1127.30" y2="406.40" stroke="#0a14f0" stroke-width="1.4"/>
<line x1="1116.30" y1="406.40" x2="1139.00" y2="406.40" stroke="#0a14f0" stroke-width="1.8"/>
<line x1="1116.30" y1="412.20" x2="1139.00" y2="412.20" stroke="#0a14f0" stroke-width="1.8"/>
<line x1="1127.30" y1="412.20" x2="1127.30" y2="416.50" stroke="#0a14f0" stroke-width="1.4"/>
<line x1="1127.30" y1="416.50" x2="1127.30" y2="430.20" stroke="#111111" stroke-width="1.5"/>
<line x1="1127.30" y1="430.20" x2="1127.30" y2="443.90" stroke="#15158a" stroke-width="1.5"/>
<circle cx="1127.30" cy="443.90" r="3.3" fill="#0b0b6e"/>
<line x1="1127.50" y1="444.00" x2="1127.50" y2="458.00" stroke="#8e1a1a" stroke-width="1.5"/>
<line x1="1113.05" y1="458.00" x2="1141.95" y2="458.00" stroke="#8e1a1a" stroke-width="1.8"/>
<line x1="1117.40" y1="462.40" x2="1137.60" y2="462.40" stroke="#8e1a1a" stroke-width="1.8"/>
<line x1="1121.75" y1="466.50" x2="1133.25" y2="466.50" stroke="#8e1a1a" stroke-width="1.8"/>
<line x1="1125.65" y1="470.70" x2="1129.35" y2="470.70" stroke="#8e1a1a" stroke-width="1.8"/>
<text transform="translate(1127.30,482.60) scale(0.965,1)" fill="#8e1a1a" stroke="#8e1a1a" stroke-width="0.15" font-size="13" text-anchor="middle">GND</text>
<text transform="translate(1127.30,427.00) scale(0.965,1)" fill="#12127e" stroke="#12127e" stroke-width="0.15" font-size="13" text-anchor="start">C58</text>
<text transform="translate(1127.30,440.40) scale(0.965,1)" fill="#12127e" stroke="#12127e" stroke-width="0.15" font-size="13" text-anchor="start">5.6pF_NC</text>
<rect x="1296.5" y="219.2" width="281.8" height="252.9" fill="#fffdb4" stroke="#b8664a" stroke-width="1.2"/>
<line x1="1268.60" y1="275.30" x2="1296.50" y2="275.30" stroke="#111111" stroke-width="1.5"/>
<text transform="translate(1306.90,278.80) scale(0.965,1)" fill="#000" stroke="#000" stroke-width="0.15" font-size="13" text-anchor="start">WL_REG_ON</text>
<text transform="translate(1273.20,271.80) scale(0.965,1)" fill="#000" stroke="#000" stroke-width="0.15" font-size="13" text-anchor="start">12</text>
<line x1="1268.60" y1="289.37" x2="1296.50" y2="289.37" stroke="#111111" stroke-width="1.5"/>
<text transform="translate(1306.90,292.87) scale(0.965,1)" fill="#000" stroke="#000" stroke-width="0.15" font-size="13" text-anchor="start">WL_HOST_WAKE</text>
<text transform="translate(1273.20,285.87) scale(0.965,1)" fill="#000" stroke="#000" stroke-width="0.15" font-size="13" text-anchor="start">13</text>
<line x1="1268.60" y1="303.44" x2="1296.50" y2="303.44" stroke="#111111" stroke-width="1.5"/>
<text transform="translate(1306.90,306.94) scale(0.965,1)" fill="#000" stroke="#000" stroke-width="0.15" font-size="13" text-anchor="start">SDIO_D2</text>
<text transform="translate(1273.20,299.94) scale(0.965,1)" fill="#000" stroke="#000" stroke-width="0.15" font-size="13" text-anchor="start">14</text>
<line x1="1268.60" y1="317.51" x2="1296.50" y2="317.51" stroke="#111111" stroke-width="1.5"/>
<text transform="translate(1306.90,321.01) scale(0.965,1)" fill="#000" stroke="#000" stroke-width="0.15" font-size="13" text-anchor="start">SDIO_D3</text>
<text transform="translate(1273.20,314.01) scale(0.965,1)" fill="#000" stroke="#000" stroke-width="0.15" font-size="13" text-anchor="start">15</text>
<line x1="1268.60" y1="331.58" x2="1296.50" y2="331.58" stroke="#111111" stroke-width="1.5"/>
<text transform="translate(1306.90,335.08) scale(0.965,1)" fill="#000" stroke="#000" stroke-width="0.15" font-size="13" text-anchor="start">SDIO_CMD</text>
<text transform="translate(1273.20,328.08) scale(0.965,1)" fill="#000" stroke="#000" stroke-width="0.15" font-size="13" text-anchor="start">16</text>
<line x1="1268.60" y1="345.65" x2="1296.50" y2="345.65" stroke="#111111" stroke-width="1.5"/>
<text transform="translate(1306.90,349.15) scale(0.965,1)" fill="#000" stroke="#000" stroke-width="0.15" font-size="13" text-anchor="start">SDIO_CLK</text>
<text transform="translate(1273.20,342.15) scale(0.965,1)" fill="#000" stroke="#000" stroke-width="0.15" font-size="13" text-anchor="start">17</text>
<line x1="1268.60" y1="359.72" x2="1296.50" y2="359.72" stroke="#111111" stroke-width="1.5"/>
<text transform="translate(1306.90,363.22) scale(0.965,1)" fill="#000" stroke="#000" stroke-width="0.15" font-size="13" text-anchor="start">SDIO_D0</text>
<text transform="translate(1273.20,356.22) scale(0.965,1)" fill="#000" stroke="#000" stroke-width="0.15" font-size="13" text-anchor="start">18</text>
<line x1="1268.60" y1="373.79" x2="1296.50" y2="373.79" stroke="#111111" stroke-width="1.5"/>
<text transform="translate(1306.90,377.29) scale(0.965,1)" fill="#000" stroke="#000" stroke-width="0.15" font-size="13" text-anchor="start">SDIO_D1</text>
<text transform="translate(1273.20,370.29) scale(0.965,1)" fill="#000" stroke="#000" stroke-width="0.15" font-size="13" text-anchor="start">19</text>
<line x1="1268.60" y1="387.86" x2="1296.50" y2="387.86" stroke="#111111" stroke-width="1.5"/>
<text transform="translate(1306.90,391.36) scale(0.965,1)" fill="#000" stroke="#000" stroke-width="0.15" font-size="13" text-anchor="start">GND</text>
<text transform="translate(1273.20,384.36) scale(0.965,1)" fill="#000" stroke="#000" stroke-width="0.15" font-size="13" text-anchor="start">20</text>
<line x1="1268.60" y1="401.93" x2="1296.50" y2="401.93" stroke="#111111" stroke-width="1.5"/>
<text transform="translate(1306.90,405.43) scale(0.965,1)" fill="#000" stroke="#000" stroke-width="0.15" font-size="13" text-anchor="start">NC6</text>
<text transform="translate(1273.20,398.43) scale(0.965,1)" fill="#000" stroke="#000" stroke-width="0.15" font-size="13" text-anchor="start">21</text>
<line x1="1268.60" y1="416.00" x2="1296.50" y2="416.00" stroke="#111111" stroke-width="1.5"/>
<text transform="translate(1306.90,419.50) scale(0.965,1)" fill="#000" stroke="#000" stroke-width="0.15" font-size="13" text-anchor="start">VDDIO</text>
<text transform="translate(1273.20,412.50) scale(0.965,1)" fill="#000" stroke="#000" stroke-width="0.15" font-size="13" text-anchor="start">22</text>
<line x1="1578.30" y1="275.30" x2="1606.90" y2="275.30" stroke="#111111" stroke-width="1.5"/>
<text transform="translate(1567.20,278.80) scale(0.965,1)" fill="#000" stroke="#000" stroke-width="0.15" font-size="13" text-anchor="end">UART_CTS_N</text>
<text transform="translate(1588.80,271.80) scale(0.965,1)" fill="#000" stroke="#000" stroke-width="0.15" font-size="13" text-anchor="start">44</text>
<line x1="1578.30" y1="289.37" x2="1606.90" y2="289.37" stroke="#111111" stroke-width="1.5"/>
<text transform="translate(1567.20,292.87) scale(0.965,1)" fill="#000" stroke="#000" stroke-width="0.15" font-size="13" text-anchor="end">UART_RXD</text>
<text transform="translate(1588.80,285.87) scale(0.965,1)" fill="#000" stroke="#000" stroke-width="0.15" font-size="13" text-anchor="start">43</text>
<line x1="1578.30" y1="303.44" x2="1606.90" y2="303.44" stroke="#111111" stroke-width="1.5"/>
<text transform="translate(1567.20,306.94) scale(0.965,1)" fill="#000" stroke="#000" stroke-width="0.15" font-size="13" text-anchor="end">UART_TXD</text>
<text transform="translate(1588.80,299.94) scale(0.965,1)" fill="#000" stroke="#000" stroke-width="0.15" font-size="13" text-anchor="start">42</text>
<line x1="1578.30" y1="317.51" x2="1606.90" y2="317.51" stroke="#111111" stroke-width="1.5"/>
<text transform="translate(1567.20,321.01) scale(0.965,1)" fill="#000" stroke="#000" stroke-width="0.15" font-size="13" text-anchor="end">UART_RTS_N</text>
<text transform="translate(1588.80,314.01) scale(0.965,1)" fill="#000" stroke="#000" stroke-width="0.15" font-size="13" text-anchor="start">41</text>
<line x1="1578.30" y1="331.58" x2="1606.90" y2="331.58" stroke="#111111" stroke-width="1.5"/>
<text transform="translate(1567.20,335.08) scale(0.965,1)" fill="#000" stroke="#000" stroke-width="0.15" font-size="13" text-anchor="end">NC14</text>
<text transform="translate(1588.80,328.08) scale(0.965,1)" fill="#000" stroke="#000" stroke-width="0.15" font-size="13" text-anchor="start">40</text>
<line x1="1578.30" y1="345.65" x2="1606.90" y2="345.65" stroke="#111111" stroke-width="1.5"/>
<text transform="translate(1567.20,349.15) scale(0.965,1)" fill="#000" stroke="#000" stroke-width="0.15" font-size="13" text-anchor="end">NC13</text>
<text transform="translate(1588.80,342.15) scale(0.965,1)" fill="#000" stroke="#000" stroke-width="0.15" font-size="13" text-anchor="start">39</text>
<line x1="1578.30" y1="359.72" x2="1606.90" y2="359.72" stroke="#111111" stroke-width="1.5"/>
<text transform="translate(1567.20,363.22) scale(0.965,1)" fill="#000" stroke="#000" stroke-width="0.15" font-size="13" text-anchor="end">NC12</text>
<text transform="translate(1588.80,356.22) scale(0.965,1)" fill="#000" stroke="#000" stroke-width="0.15" font-size="13" text-anchor="start">38</text>
<line x1="1578.30" y1="373.79" x2="1606.90" y2="373.79" stroke="#111111" stroke-width="1.5"/>
<text transform="translate(1567.20,377.29) scale(0.965,1)" fill="#000" stroke="#000" stroke-width="0.15" font-size="13" text-anchor="end">NC11</text>
<text transform="translate(1588.80,370.29) scale(0.965,1)" fill="#000" stroke="#000" stroke-width="0.15" font-size="13" text-anchor="start">37</text>
<line x1="1578.30" y1="387.86" x2="1606.90" y2="387.86" stroke="#111111" stroke-width="1.5"/>
<text transform="translate(1567.20,391.36) scale(0.965,1)" fill="#000" stroke="#000" stroke-width="0.15" font-size="13" text-anchor="end">GND</text>
<text transform="translate(1588.80,384.36) scale(0.965,1)" fill="#000" stroke="#000" stroke-width="0.15" font-size="13" text-anchor="start">36</text>
<line x1="1578.30" y1="401.93" x2="1606.90" y2="401.93" stroke="#111111" stroke-width="1.5"/>
<text transform="translate(1567.20,405.43) scale(0.965,1)" fill="#000" stroke="#000" stroke-width="0.15" font-size="13" text-anchor="end">NC10</text>
<text transform="translate(1588.80,398.43) scale(0.965,1)" fill="#000" stroke="#000" stroke-width="0.15" font-size="13" text-anchor="start">35</text>
<line x1="1578.30" y1="416.00" x2="1606.90" y2="416.00" stroke="#111111" stroke-width="1.5"/>
<text transform="translate(1567.20,419.50) scale(0.965,1)" fill="#000" stroke="#000" stroke-width="0.15" font-size="13" text-anchor="end">BT_RSTN</text>
<text transform="translate(1588.80,412.50) scale(0.965,1)" fill="#000" stroke="#000" stroke-width="0.15" font-size="13" text-anchor="start">34</text>
<line x1="1366.80" y1="219.20" x2="1366.80" y2="190.20" stroke="#111111" stroke-width="1.5"/>
<text transform="translate(1371.30,229.50) rotate(-90) scale(0.965,1)" fill="#000" stroke="#000" stroke-width="0.15" font-size="13" text-anchor="end">NC5</text>
<text transform="translate(1364.10,207.00) rotate(-90) scale(0.965,1)" fill="#000" stroke="#000" stroke-width="0.15" font-size="13" text-anchor="start">11</text>
<line x1="1380.90" y1="219.20" x2="1380.90" y2="190.20" stroke="#111111" stroke-width="1.5"/>
<text transform="translate(1385.40,229.50) rotate(-90) scale(0.965,1)" fill="#000" stroke="#000" stroke-width="0.15" font-size="13" text-anchor="end">NC4</text>
<text transform="translate(1378.20,207.00) rotate(-90) scale(0.965,1)" fill="#000" stroke="#000" stroke-width="0.15" font-size="13" text-anchor="start">10</text>
<line x1="1395.00" y1="219.20" x2="1395.00" y2="190.20" stroke="#111111" stroke-width="1.5"/>
<text transform="translate(1399.50,229.50) rotate(-90) scale(0.965,1)" fill="#000" stroke="#000" stroke-width="0.15" font-size="13" text-anchor="end">VBAT</text>
<text transform="translate(1392.30,207.00) rotate(-90) scale(0.965,1)" fill="#000" stroke="#000" stroke-width="0.15" font-size="13" text-anchor="start">9</text>
<line x1="1409.10" y1="219.20" x2="1409.10" y2="190.20" stroke="#111111" stroke-width="1.5"/>
<text transform="translate(1413.60,229.50) rotate(-90) scale(0.965,1)" fill="#000" stroke="#000" stroke-width="0.15" font-size="13" text-anchor="end">NC3</text>
<text transform="translate(1406.40,207.00) rotate(-90) scale(0.965,1)" fill="#000" stroke="#000" stroke-width="0.15" font-size="13" text-anchor="start">8</text>
<line x1="1423.20" y1="219.20" x2="1423.20" y2="190.20" stroke="#111111" stroke-width="1.5"/>
<text transform="translate(1427.70,229.50) rotate(-90) scale(0.965,1)" fill="#000" stroke="#000" stroke-width="0.15" font-size="13" text-anchor="end">BT_HOST_WAKE</text>
<text transform="translate(1420.50,207.00) rotate(-90) scale(0.965,1)" fill="#000" stroke="#000" stroke-width="0.15" font-size="13" text-anchor="start">7</text>
<line x1="1437.30" y1="219.20" x2="1437.30" y2="190.20" stroke="#111111" stroke-width="1.5"/>
<text transform="translate(1441.80,229.50) rotate(-90) scale(0.965,1)" fill="#000" stroke="#000" stroke-width="0.15" font-size="13" text-anchor="end">BT_WAKE</text>
<text transform="translate(1434.60,207.00) rotate(-90) scale(0.965,1)" fill="#000" stroke="#000" stroke-width="0.15" font-size="13" text-anchor="start">6</text>
<line x1="1451.40" y1="219.20" x2="1451.40" y2="190.20" stroke="#111111" stroke-width="1.5"/>
<text transform="translate(1455.90,229.50) rotate(-90) scale(0.965,1)" fill="#000" stroke="#000" stroke-width="0.15" font-size="13" text-anchor="end">NC2</text>
<text transform="translate(1448.70,207.00) rotate(-90) scale(0.965,1)" fill="#000" stroke="#000" stroke-width="0.15" font-size="13" text-anchor="start">5</text>
<line x1="1465.50" y1="219.20" x2="1465.50" y2="190.20" stroke="#111111" stroke-width="1.5"/>
<text transform="translate(1470.00,229.50) rotate(-90) scale(0.965,1)" fill="#000" stroke="#000" stroke-width="0.15" font-size="13" text-anchor="end">NC1</text>
<text transform="translate(1462.80,207.00) rotate(-90) scale(0.965,1)" fill="#000" stroke="#000" stroke-width="0.15" font-size="13" text-anchor="start">4</text>
<line x1="1479.60" y1="219.20" x2="1479.60" y2="190.20" stroke="#111111" stroke-width="1.5"/>
<text transform="translate(1484.10,229.50) rotate(-90) scale(0.965,1)" fill="#000" stroke="#000" stroke-width="0.15" font-size="13" text-anchor="end">GND</text>
<text transform="translate(1476.90,207.00) rotate(-90) scale(0.965,1)" fill="#000" stroke="#000" stroke-width="0.15" font-size="13" text-anchor="start">3</text>
<line x1="1493.70" y1="219.20" x2="1493.70" y2="190.20" stroke="#111111" stroke-width="1.5"/>
<text transform="translate(1498.20,229.50) rotate(-90) scale(0.965,1)" fill="#000" stroke="#000" stroke-width="0.15" font-size="13" text-anchor="end">ANT</text>
<text transform="translate(1491.00,207.00) rotate(-90) scale(0.965,1)" fill="#000" stroke="#000" stroke-width="0.15" font-size="13" text-anchor="start">2</text>
<line x1="1507.80" y1="219.20" x2="1507.80" y2="190.20" stroke="#111111" stroke-width="1.5"/>
<text transform="translate(1512.30,229.50) rotate(-90) scale(0.965,1)" fill="#000" stroke="#000" stroke-width="0.15" font-size="13" text-anchor="end">GND</text>
<text transform="translate(1505.10,207.00) rotate(-90) scale(0.965,1)" fill="#000" stroke="#000" stroke-width="0.15" font-size="13" text-anchor="start">1</text>
<line x1="1366.80" y1="472.10" x2="1366.80" y2="500.60" stroke="#111111" stroke-width="1.5"/>
<text transform="translate(1371.30,461.80) rotate(-90) scale(0.965,1)" fill="#000" stroke="#000" stroke-width="0.15" font-size="13" text-anchor="start">NC7</text>
<text transform="translate(1364.30,495.50) rotate(-90) scale(0.965,1)" fill="#000" stroke="#000" stroke-width="0.15" font-size="13" text-anchor="start">23</text>
<line x1="1380.90" y1="472.10" x2="1380.90" y2="500.60" stroke="#111111" stroke-width="1.5"/>
<text transform="translate(1385.40,461.80) rotate(-90) scale(0.965,1)" fill="#000" stroke="#000" stroke-width="0.15" font-size="13" text-anchor="start">LPO</text>
<text transform="translate(1378.40,495.50) rotate(-90) scale(0.965,1)" fill="#000" stroke="#000" stroke-width="0.15" font-size="13" text-anchor="start">24</text>
<line x1="1380.90" y1="500.60" x2="1380.90" y2="510.00" stroke="#15158a" stroke-width="1.5"/>
<line x1="1395.00" y1="472.10" x2="1395.00" y2="500.60" stroke="#111111" stroke-width="1.5"/>
<text transform="translate(1399.50,461.80) rotate(-90) scale(0.965,1)" fill="#000" stroke="#000" stroke-width="0.15" font-size="13" text-anchor="start">PCM_OUT</text>
<text transform="translate(1392.50,495.50) rotate(-90) scale(0.965,1)" fill="#000" stroke="#000" stroke-width="0.15" font-size="13" text-anchor="start">25</text>
<line x1="1395.00" y1="500.60" x2="1395.00" y2="510.00" stroke="#15158a" stroke-width="1.5"/>
<line x1="1409.10" y1="472.10" x2="1409.10" y2="500.60" stroke="#111111" stroke-width="1.5"/>
<text transform="translate(1413.60,461.80) rotate(-90) scale(0.965,1)" fill="#000" stroke="#000" stroke-width="0.15" font-size="13" text-anchor="start">PCM_CLK</text>
<text transform="translate(1406.60,495.50) rotate(-90) scale(0.965,1)" fill="#000" stroke="#000" stroke-width="0.15" font-size="13" text-anchor="start">26</text>
<line x1="1409.10" y1="500.60" x2="1409.10" y2="510.00" stroke="#15158a" stroke-width="1.5"/>
<line x1="1423.20" y1="472.10" x2="1423.20" y2="500.60" stroke="#111111" stroke-width="1.5"/>
<text transform="translate(1427.70,461.80) rotate(-90) scale(0.965,1)" fill="#000" stroke="#000" stroke-width="0.15" font-size="13" text-anchor="start">PCM_IN</text>
<text transform="translate(1420.70,495.50) rotate(-90) scale(0.965,1)" fill="#000" stroke="#000" stroke-width="0.15" font-size="13" text-anchor="start">27</text>
<line x1="1423.20" y1="500.60" x2="1423.20" y2="510.00" stroke="#15158a" stroke-width="1.5"/>
<line x1="1437.30" y1="472.10" x2="1437.30" y2="500.60" stroke="#111111" stroke-width="1.5"/>
<text transform="translate(1441.80,461.80) rotate(-90) scale(0.965,1)" fill="#000" stroke="#000" stroke-width="0.15" font-size="13" text-anchor="start">PCM_SYNC</text>
<text transform="translate(1434.80,495.50) rotate(-90) scale(0.965,1)" fill="#000" stroke="#000" stroke-width="0.15" font-size="13" text-anchor="start">28</text>
<line x1="1437.30" y1="500.60" x2="1437.30" y2="510.00" stroke="#15158a" stroke-width="1.5"/>
<line x1="1451.40" y1="472.10" x2="1451.40" y2="500.60" stroke="#111111" stroke-width="1.5"/>
<text transform="translate(1455.90,461.80) rotate(-90) scale(0.965,1)" fill="#000" stroke="#000" stroke-width="0.15" font-size="13" text-anchor="start">NC8</text>
<text transform="translate(1448.90,495.50) rotate(-90) scale(0.965,1)" fill="#000" stroke="#000" stroke-width="0.15" font-size="13" text-anchor="start">29</text>
<line x1="1465.50" y1="472.10" x2="1465.50" y2="500.60" stroke="#111111" stroke-width="1.5"/>
<text transform="translate(1470.00,461.80) rotate(-90) scale(0.965,1)" fill="#000" stroke="#000" stroke-width="0.15" font-size="13" text-anchor="start">TCXO_IN</text>
<text transform="translate(1463.00,495.50) rotate(-90) scale(0.965,1)" fill="#000" stroke="#000" stroke-width="0.15" font-size="13" text-anchor="start">30</text>
<line x1="1465.50" y1="500.60" x2="1465.50" y2="510.00" stroke="#15158a" stroke-width="1.5"/>
<line x1="1479.60" y1="472.10" x2="1479.60" y2="500.60" stroke="#111111" stroke-width="1.5"/>
<text transform="translate(1484.10,461.80) rotate(-90) scale(0.965,1)" fill="#000" stroke="#000" stroke-width="0.15" font-size="13" text-anchor="start">GND</text>
<text transform="translate(1477.10,495.50) rotate(-90) scale(0.965,1)" fill="#000" stroke="#000" stroke-width="0.15" font-size="13" text-anchor="start">31</text>
<line x1="1479.60" y1="500.60" x2="1479.60" y2="510.00" stroke="#15158a" stroke-width="1.5"/>
<line x1="1493.70" y1="472.10" x2="1493.70" y2="500.60" stroke="#111111" stroke-width="1.5"/>
<text transform="translate(1498.20,461.80) rotate(-90) scale(0.965,1)" fill="#000" stroke="#000" stroke-width="0.15" font-size="13" text-anchor="start">NC9</text>
<text transform="translate(1491.20,495.50) rotate(-90) scale(0.965,1)" fill="#000" stroke="#000" stroke-width="0.15" font-size="13" text-anchor="start">32</text>
<line x1="1507.80" y1="472.10" x2="1507.80" y2="500.60" stroke="#111111" stroke-width="1.5"/>
<text transform="translate(1512.30,461.80) rotate(-90) scale(0.965,1)" fill="#000" stroke="#000" stroke-width="0.15" font-size="13" text-anchor="start">GND</text>
<text transform="translate(1505.30,495.50) rotate(-90) scale(0.965,1)" fill="#000" stroke="#000" stroke-width="0.15" font-size="13" text-anchor="start">33</text>
<line x1="1507.80" y1="500.60" x2="1507.80" y2="510.00" stroke="#15158a" stroke-width="1.5"/>
<line x1="1395.00" y1="190.20" x2="1395.00" y2="150.00" stroke="#15158a" stroke-width="1.5"/>
<line x1="1423.20" y1="190.20" x2="1423.20" y2="150.00" stroke="#15158a" stroke-width="1.5"/>
<line x1="1437.30" y1="190.20" x2="1437.30" y2="150.00" stroke="#15158a" stroke-width="1.5"/>
<line x1="1493.70" y1="190.20" x2="1493.70" y2="150.00" stroke="#15158a" stroke-width="1.5"/>
<polyline points="1479.60,190.20 1479.60,176.80 1507.80,176.80 1507.80,190.20" fill="none" stroke="#15158a" stroke-width="1.5"/>
<line x1="1507.80" y1="176.80" x2="1521.90" y2="176.80" stroke="#8e1a1a" stroke-width="1.5"/>
<circle cx="1507.80" cy="176.80" r="3.3" fill="#0b0b6e"/>
<line x1="1521.90" y1="162.40" x2="1521.90" y2="190.80" stroke="#8e1a1a" stroke-width="1.8"/>
<line x1="1526.00" y1="166.80" x2="1526.00" y2="186.60" stroke="#8e1a1a" stroke-width="1.8"/>
<line x1="1530.20" y1="170.90" x2="1530.20" y2="182.50" stroke="#8e1a1a" stroke-width="1.8"/>
<line x1="1534.30" y1="175.20" x2="1534.30" y2="178.40" stroke="#8e1a1a" stroke-width="1.8"/>
<text transform="translate(1538.90,180.50) scale(0.965,1)" fill="#8e1a1a" stroke="#8e1a1a" stroke-width="0.15" font-size="13" text-anchor="start">GND</text>
<text transform="translate(1420.40,190.20) rotate(-90) scale(0.965,1)" fill="#8e1a1a" stroke="#8e1a1a" stroke-width="0.15" font-size="13" text-anchor="start">BT_WAKE_AP</text>
<text transform="translate(1434.50,190.20) rotate(-90) scale(0.965,1)" fill="#8e1a1a" stroke="#8e1a1a" stroke-width="0.15" font-size="13" text-anchor="start">AP_WAKE_BT</text>
<text transform="translate(1564.10,201.10) scale(0.965,1)" fill="#12127e" stroke="#12127e" stroke-width="0.15" font-size="13" text-anchor="start">U3</text>
<text transform="translate(1564.10,215.70) scale(0.965,1)" fill="#12127e" stroke="#12127e" stroke-width="0.15" font-size="13" text-anchor="start">XR829MQ</text>
<text transform="translate(1457.30,318.70) rotate(90)" fill="#800080" stroke="#800080" stroke-width="0.15" font-size="18.5" text-anchor="start" textLength="89.80" lengthAdjust="spacingAndGlyphs">XR829MQ</text>
<line x1="1240.30" y1="387.86" x2="1254.00" y2="387.86" stroke="#8e1a1a" stroke-width="1.5"/>
<line x1="1254.00" y1="387.86" x2="1268.60" y2="387.86" stroke="#15158a" stroke-width="1.5"/>
<line x1="1240.30" y1="373.76" x2="1240.30" y2="401.96" stroke="#8e1a1a" stroke-width="1.8"/>
<line x1="1235.90" y1="377.76" x2="1235.90" y2="397.96" stroke="#8e1a1a" stroke-width="1.8"/>
<line x1="1231.70" y1="382.11" x2="1231.70" y2="393.61" stroke="#8e1a1a" stroke-width="1.8"/>
<line x1="1227.70" y1="386.01" x2="1227.70" y2="389.71" stroke="#8e1a1a" stroke-width="1.8"/>
<text transform="translate(1223.50,391.86) scale(0.965,1)" fill="#8e1a1a" stroke="#8e1a1a" stroke-width="0.15" font-size="13" text-anchor="end">GND</text>
<line x1="1225.80" y1="409.00" x2="1225.80" y2="423.00" stroke="#8e1a1a" stroke-width="1.8"/>
<line x1="1225.80" y1="416.00" x2="1240.40" y2="416.00" stroke="#8e1a1a" stroke-width="1.5"/>
<line x1="1240.40" y1="416.00" x2="1268.60" y2="416.00" stroke="#15158a" stroke-width="1.5"/>
<circle cx="1240.40" cy="416.00" r="3.3" fill="#0b0b6e"/>
<circle cx="1268.60" cy="416.00" r="3.3" fill="#0b0b6e"/>
<text transform="translate(1222.80,420.00) scale(0.965,1)" fill="#8e1a1a" stroke="#8e1a1a" stroke-width="0.15" font-size="13" text-anchor="end">VCC_3V3</text>
<line x1="1240.40" y1="416.00" x2="1240.40" y2="430.00" stroke="#111111" stroke-width="1.5"/>
<line x1="1240.40" y1="430.00" x2="1240.40" y2="434.30" stroke="#0a14f0" stroke-width="1.4"/>
<line x1="1228.90" y1="434.30" x2="1251.60" y2="434.30" stroke="#0a14f0" stroke-width="1.8"/>
<line x1="1228.90" y1="439.80" x2="1251.60" y2="439.80" stroke="#0a14f0" stroke-width="1.8"/>
<line x1="1240.40" y1="439.80" x2="1240.40" y2="444.30" stroke="#0a14f0" stroke-width="1.4"/>
<line x1="1240.40" y1="444.30" x2="1240.40" y2="458.60" stroke="#111111" stroke-width="1.5"/>
<line x1="1240.40" y1="458.30" x2="1240.40" y2="472.30" stroke="#8e1a1a" stroke-width="1.5"/>
<line x1="1225.95" y1="472.30" x2="1254.85" y2="472.30" stroke="#8e1a1a" stroke-width="1.8"/>
<line x1="1230.30" y1="476.70" x2="1250.50" y2="476.70" stroke="#8e1a1a" stroke-width="1.8"/>
<line x1="1234.65" y1="480.80" x2="1246.15" y2="480.80" stroke="#8e1a1a" stroke-width="1.8"/>
<line x1="1238.55" y1="485.00" x2="1242.25" y2="485.00" stroke="#8e1a1a" stroke-width="1.8"/>
<text transform="translate(1240.40,496.60) scale(0.965,1)" fill="#8e1a1a" stroke="#8e1a1a" stroke-width="0.15" font-size="13" text-anchor="middle">GND</text>
<text transform="translate(1198.20,440.40) scale(0.965,1)" fill="#12127e" stroke="#12127e" stroke-width="0.15" font-size="13" text-anchor="start">C60</text>
<text transform="translate(1184.80,454.00) scale(0.965,1)" fill="#12127e" stroke="#12127e" stroke-width="0.15" font-size="13" text-anchor="start">10uF/6.3V</text>
<line x1="1268.50" y1="416.00" x2="1268.50" y2="430.00" stroke="#111111" stroke-width="1.5"/>
<line x1="1268.50" y1="458.00" x2="1268.50" y2="472.00" stroke="#111111" stroke-width="1.5"/>
<polyline points="1268.50,430.00 1268.50,435.50 1271.50,437.86 1265.50,440.21 1271.50,442.57 1265.50,444.93 1271.50,447.29 1265.50,449.64 1268.50,452.00 1268.50,458.00" fill="none" stroke="#0a14f0" stroke-width="1.4"/>
<line x1="1268.50" y1="472.00" x2="1268.50" y2="510.00" stroke="#15158a" stroke-width="1.5"/>
<text transform="translate(1272.70,439.20) scale(0.965,1)" fill="#12127e" stroke="#12127e" stroke-width="0.15" font-size="13" text-anchor="start">R43</text>
<text transform="translate(1272.70,453.30) scale(0.965,1)" fill="#12127e" stroke="#12127e" stroke-width="0.15" font-size="13" text-anchor="start">47K</text>
<line x1="1606.90" y1="275.30" x2="1670.00" y2="275.30" stroke="#15158a" stroke-width="1.5"/>
<line x1="1606.90" y1="289.37" x2="1670.00" y2="289.37" stroke="#15158a" stroke-width="1.5"/>
<line x1="1606.90" y1="303.44" x2="1670.00" y2="303.44" stroke="#15158a" stroke-width="1.5"/>
<line x1="1606.90" y1="317.51" x2="1670.00" y2="317.51" stroke="#15158a" stroke-width="1.5"/>
<line x1="1606.90" y1="416.00" x2="1670.00" y2="416.00" stroke="#15158a" stroke-width="1.5"/>
<line x1="1606.90" y1="387.86" x2="1634.50" y2="387.86" stroke="#15158a" stroke-width="1.5"/>
<line x1="1634.50" y1="387.86" x2="1648.40" y2="387.86" stroke="#8e1a1a" stroke-width="1.5"/>
<circle cx="1634.50" cy="387.86" r="3.3" fill="#0b0b6e"/>
<line x1="1648.40" y1="373.86" x2="1648.40" y2="401.86" stroke="#8e1a1a" stroke-width="1.8"/>
<line x1="1652.80" y1="377.76" x2="1652.80" y2="397.96" stroke="#8e1a1a" stroke-width="1.8"/>
<line x1="1657.00" y1="382.11" x2="1657.00" y2="393.61" stroke="#8e1a1a" stroke-width="1.8"/>
<line x1="1661.20" y1="386.01" x2="1661.20" y2="389.71" stroke="#8e1a1a" stroke-width="1.8"/>
<text transform="translate(1664.50,391.86) scale(0.965,1)" fill="#8e1a1a" stroke="#8e1a1a" stroke-width="0.15" font-size="13" text-anchor="start">GND</text>
<polyline points="1634.50,219.00 1634.50,204.70 1662.70,204.70" fill="none" stroke="#15158a" stroke-width="1.5"/>
<circle cx="1662.70" cy="204.70" r="3.3" fill="#0b0b6e"/>
<line x1="1634.50" y1="205.00" x2="1634.50" y2="219.00" stroke="#111111" stroke-width="1.5"/>
<line x1="1634.50" y1="247.00" x2="1634.50" y2="261.00" stroke="#111111" stroke-width="1.5"/>
<polyline points="1634.50,219.00 1634.50,224.50 1637.50,226.86 1631.50,229.21 1637.50,231.57 1631.50,233.93 1637.50,236.29 1631.50,238.64 1634.50,241.00 1634.50,247.00" fill="none" stroke="#0a14f0" stroke-width="1.4"/>
<line x1="1662.70" y1="205.00" x2="1662.70" y2="219.00" stroke="#111111" stroke-width="1.5"/>
<line x1="1662.70" y1="247.00" x2="1662.70" y2="261.00" stroke="#111111" stroke-width="1.5"/>
<polyline points="1662.70,219.00 1662.70,224.50 1665.70,226.86 1659.70,229.21 1665.70,231.57 1659.70,233.93 1665.70,236.29 1659.70,238.64 1662.70,241.00 1662.70,247.00" fill="none" stroke="#0a14f0" stroke-width="1.4"/>
<line x1="1634.50" y1="261.00" x2="1634.50" y2="317.10" stroke="#15158a" stroke-width="1.5"/>
<circle cx="1634.50" cy="317.10" r="3.3" fill="#0b0b6e"/>
<line x1="1662.70" y1="261.00" x2="1662.70" y2="303.20" stroke="#15158a" stroke-width="1.5"/>
<circle cx="1662.70" cy="303.20" r="3.3" fill="#0b0b6e"/>
<text transform="translate(1638.00,228.60) scale(0.965,1)" fill="#12127e" stroke="#12127e" stroke-width="0.15" font-size="13" text-anchor="start">R46</text>
<text transform="translate(1638.00,242.70) scale(0.965,1)" fill="#12127e" stroke="#12127e" stroke-width="0.15" font-size="13" text-anchor="start">NC</text>
<line x1="1634.50" y1="317.10" x2="1634.50" y2="331.10" stroke="#111111" stroke-width="1.5"/>
<line x1="1634.50" y1="359.30" x2="1634.50" y2="373.30" stroke="#111111" stroke-width="1.5"/>
<polyline points="1634.50,331.10 1634.50,336.60 1637.50,338.99 1631.50,341.37 1637.50,343.76 1631.50,346.14 1637.50,348.53 1631.50,350.91 1634.50,353.30 1634.50,359.30" fill="none" stroke="#0a14f0" stroke-width="1.4"/>
<line x1="1634.50" y1="373.30" x2="1634.50" y2="387.86" stroke="#15158a" stroke-width="1.5"/>
<text transform="translate(1638.50,340.40) scale(0.965,1)" fill="#12127e" stroke="#12127e" stroke-width="0.15" font-size="13" text-anchor="start">R45</text>
<text transform="translate(1638.50,354.30) scale(0.965,1)" fill="#12127e" stroke="#12127e" stroke-width="0.15" font-size="13" text-anchor="start">4.7K_NC</text>
</g>
<rect x="962.6" y="251.5" width="107.5" height="39" rx="1.5" fill="none" stroke="#e8202a" stroke-width="4"/>
<line x1="953.5" y1="259.7" x2="889" y2="233.5" stroke="#e8202a" stroke-width="4.6" stroke-linecap="round"/>
<polygon points="874.6,228.1 895.4,227.4 888.6,242.8" fill="#e8202a"/>
<line x1="953.1" y1="293.8" x2="854" y2="408" stroke="#e8202a" stroke-width="4.6" stroke-linecap="round"/>
<polygon points="842.1,421.6 848,402.2 861.2,412.7" fill="#e8202a"/>
<g opacity="0.25" fill="#51af41" stroke="none">
<rect x="848.90" y="273.20" width="36.90" height="3.60"/>
<polygon points="866.2,276.8 870.6,276.8 870.0,282.3 865.1,282.3"/>
<path fill-rule="evenodd" d="M854.1,282 H881.9 V308 H854.1 Z M859.1,286.2 H877 V292.9 H859.1 Z M859.1,296.7 H877 V304.1 H859.1 Z"/>
<rect x="890.00" y="279.10" width="5.00" height="28.90"/>
<rect x="890.00" y="273.20" width="8.80" height="3.60"/>
<rect x="903.10" y="273.20" width="19.90" height="3.60"/>
<rect x="918.20" y="276.80" width="4.80" height="31.20"/>
<rect x="914.30" y="304.10" width="8.70" height="3.90"/>
<path fill-rule="evenodd" d="M898.1,284.1 H915 V297.8 H898.1 Z M903.1,287.9 H910.1 V293.9 H903.1 Z"/>
<rect x="929.10" y="273.20" width="3.90" height="34.80"/>
<rect x="929.10" y="273.20" width="31.70" height="3.80"/>
<rect x="956.20" y="273.20" width="4.60" height="34.80"/>
<rect x="950.60" y="303.80" width="10.20" height="4.20"/>
</g>
<g opacity="0.25" fill="none" stroke="#51af41" stroke-width="3.4">
<path d="M935.5,281.5 L944,298 M943.5,281.5 L935.5,298 M945.5,281.5 L954,298 M953.5,281.5 L945.5,298"/>
<path stroke-width="5.4" d="M758.5,279.5 Q764,275.5 766.5,278 Q768.4,280 768.4,285 V303.5"/>
<circle cx="786.5" cy="289.2" r="13.2" stroke-width="5.4"/>
<path stroke-width="5.4" d="M810.7,298.5 A13.5,13.5 0 1 1 831,297 Q822.5,304 821,309 V312"/>
</g>
<g opacity="0.25" fill="#51af41">
<rect x="818.20" y="316.80" width="5.40" height="5.80"/>
<text x="850.6" y="322.6" font-size="12.2" font-weight="bold" stroke="#51af41" stroke-width="0.75" stroke-linejoin="round" style="font-family:'Liberation Sans',sans-serif" textLength="109.9" lengthAdjust="spacingAndGlyphs">www.100ask.net</text>
</g>
</svg></body></html>
